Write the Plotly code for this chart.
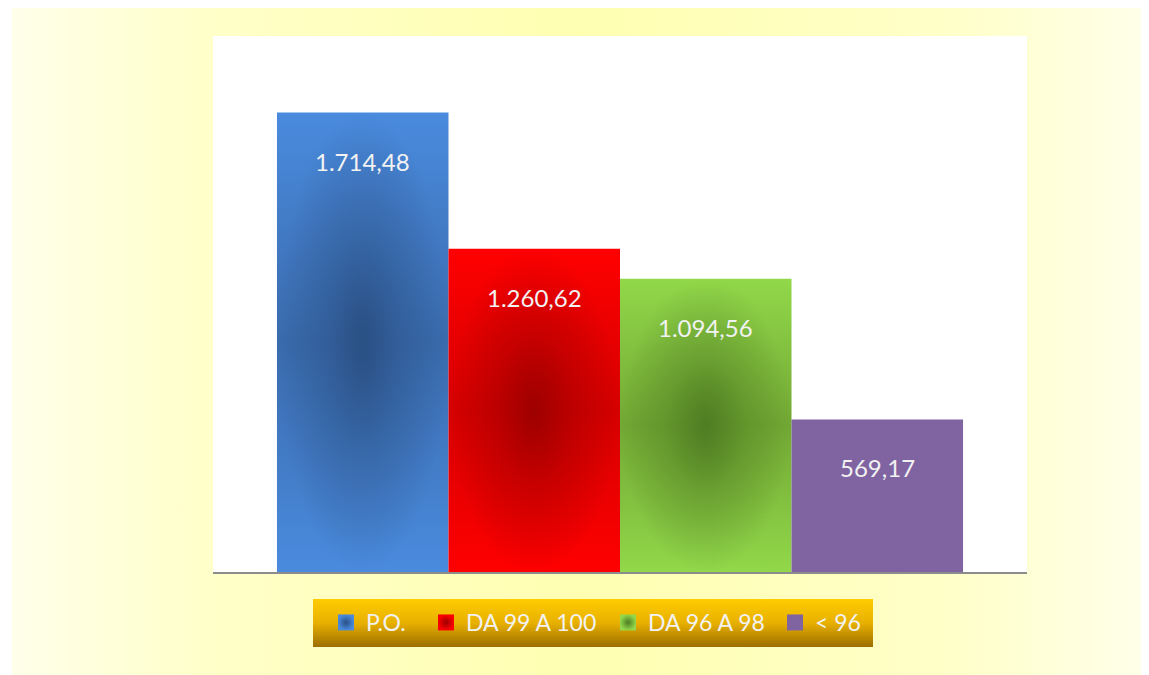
import plotly.graph_objects as go

# ---- data -------------------------------------------------------------
categories = ["P.O.", "DA 99 A 100", "DA 96 A 98", "< 96"]
# bar heights (the red bar is drawn a bit below its label value)
heights = [1714.48, 1206.6, 1094.56, 569.17]
labels = ["1.714,48", "1.260,62", "1.094,56", "569,17"]

# bar colours: top/bottom of bar, sides at mid height, centre of the shading
edge_colors = ["#4A8BDE", "#FF0000", "#92D84A", "#8064A2"]
side_colors = ["#3A6BAD", "#D60000", "#72A834", "#8064A2"]
center_rgb = [(42, 80, 132), (158, 0, 0), (79, 124, 34), (128, 100, 162)]
shaded = [True, True, True, False]

# ---- page geometry (pixels, figure sits 8px in from the page corner) --
W, H = 1141, 667
panel = (4, 0, 1141, 667)           # yellow chart area
plot_box = (205, 28, 1019, 564)     # white plot area
legend_box = (305, 591, 865, 639)   # gold legend band
legend_x = [318, 418, 600, 767]     # left edge of each legend entry


def rect(x0, y0, x1, y1):
    return [x0, x1, x1, x0, x0], [y0, y0, y1, y1, y0]


fig = go.Figure()

# decorative layers drawn on a pixel-space subplot (x / y)
px, py = rect(*panel)
fig.add_trace(go.Scatter(
    x=px, y=py, mode="lines", fill="toself", line=dict(width=0),
    fillgradient=dict(type="horizontal",
                      colorscale=[[0, "#FFFFEA"], [0.18, "#FFFFC8"], [0.5, "#FFFFB2"],
                                  [0.82, "#FFFFC8"], [1, "#FFFFEA"]]),
    hoverinfo="skip", showlegend=False))

wx, wy = rect(*plot_box)
fig.add_trace(go.Scatter(
    x=wx, y=wy, mode="lines", fill="toself", fillcolor="white",
    line=dict(width=0), hoverinfo="skip", showlegend=False))

lx, ly = rect(*legend_box)
fig.add_trace(go.Scatter(
    x=lx, y=ly, mode="lines", fill="toself", line=dict(width=0),
    fillgradient=dict(type="vertical",
                      colorscale=[[0, "#9C6E00"], [0.5, "#E8B000"], [1, "#FFCC00"]]),
    hoverinfo="skip", showlegend=False))

# bars on the data subplot (x2 / y2): a vertical base shade plus a radial dark centre
for i, h in enumerate(heights):
    bx = [i - 0.5, i + 0.5, i + 0.5, i - 0.5, i - 0.5]
    by = [0, 0, h, h, 0]
    fig.add_trace(go.Scatter(
        x=bx, y=by, xaxis="x2", yaxis="y2",
        mode="lines", fill="toself", line=dict(width=0),
        fillgradient=dict(type="vertical",
                          colorscale=[[0, edge_colors[i]], [0.5, side_colors[i]],
                                      [1, edge_colors[i]]]),
        hoverinfo="skip", showlegend=False))
    if shaded[i]:
        r, g, b = center_rgb[i]
        fig.add_trace(go.Scatter(
            x=bx, y=by, xaxis="x2", yaxis="y2",
            mode="lines", fill="toself", line=dict(width=0),
            fillgradient=dict(type="radial",
                              colorscale=[[0, f"rgba({r},{g},{b},1)"],
                                          [0.45, f"rgba({r},{g},{b},0.45)"],
                                          [1, f"rgba({r},{g},{b},0)"]]),
            hoverinfo="skip", showlegend=False))

# legend entries, one small legend per category so the spacing can follow the picture
legend_ids = ["legend", "legend2", "legend3", "legend4"]
for i, name in enumerate(categories):
    r, g, b = center_rgb[i]
    fig.add_trace(go.Scatter(
        x=[None], y=[None], xaxis="x2", yaxis="y2", mode="markers", name=name,
        legend=legend_ids[i],
        marker=dict(symbol="square", size=16, color=edge_colors[i],
                    gradient=dict(type="radial" if shaded[i] else "none",
                                  color=f"rgb({r},{g},{b})"),
                    line=dict(width=0))))

for i, (h, t) in enumerate(zip(heights, labels)):
    fig.add_annotation(x=i, y=h, xref="x2", yref="y2", text=t,
                       showarrow=False, yanchor="top", yshift=-32,
                       font=dict(family="Lato", size=24, color="#F2F2F2"))

legend_style = dict(orientation="h", xanchor="left", y=1 - 614.5 / H, yanchor="middle",
                    bgcolor="rgba(0,0,0,0)", itemwidth=30,
                    font=dict(family="Lato", size=23, color="#F2F2F2"))

fig.update_layout(
    width=W, height=H, autosize=False,
    margin=dict(l=0, r=0, t=0, b=0),
    paper_bgcolor="white", plot_bgcolor="rgba(0,0,0,0)",
    font=dict(family="Lato"),
    xaxis=dict(domain=[0, 1], range=[0, W], visible=False, fixedrange=True),
    yaxis=dict(domain=[0, 1], range=[H, 0], visible=False, fixedrange=True),
    xaxis2=dict(domain=[plot_box[0] / W, plot_box[2] / W], anchor="y2",
                range=[-0.873, 3.873], showgrid=False, zeroline=False,
                showticklabels=False, ticks="",
                showline=True, linecolor="#8C8C8C", linewidth=2),
    yaxis2=dict(domain=[1 - plot_box[3] / H, 1 - plot_box[1] / H], anchor="x2",
                range=[0, 2000], showgrid=False, zeroline=False,
                showticklabels=False, ticks=""),
    showlegend=True,
)
for lid, x0 in zip(legend_ids, legend_x):
    fig.update_layout({lid: dict(legend_style, x=x0 / W)})

fig.write_html("out.html")
